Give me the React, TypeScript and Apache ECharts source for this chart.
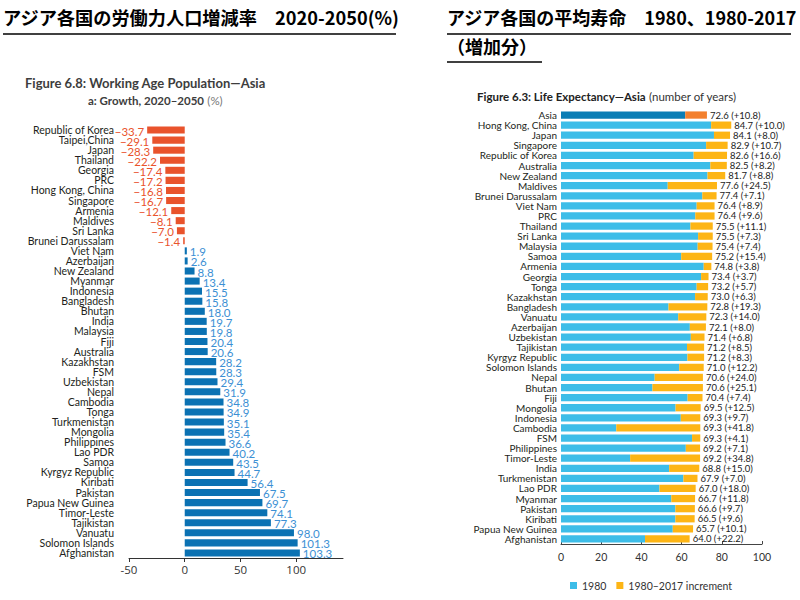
import React, { useEffect, useRef } from "react";
import * as echarts from "echarts";

const growthCategories = [
  "Republic of Korea", "Taipei,China", "Japan", "Thailand", "Georgia", "PRC",
  "Hong Kong, China", "Singapore", "Armenia", "Maldives", "Sri Lanka", "Brunei Darussalam",
  "Viet Nam", "Azerbaijan", "New Zealand", "Myanmar", "Indonesia", "Bangladesh", "Bhutan",
  "India", "Malaysia", "Fiji", "Australia", "Kazakhstan", "FSM", "Uzbekistan", "Nepal",
  "Cambodia", "Tonga", "Turkmenistan", "Mongolia", "Philippines", "Lao PDR", "Samoa",
  "Kyrgyz Republic", "Kiribati", "Pakistan", "Papua New Guinea", "Timor-Leste", "Tajikistan",
  "Vanuatu", "Solomon Islands", "Afghanistan",
];
const growthValues = [
  -33.7, -29.1, -28.3, -22.2, -17.4, -17.2, -16.8, -16.7, -12.1, -8.1, -7.0, -1.4,
  1.9, 2.6, 8.8, 13.4, 15.5, 15.8, 18.0, 19.7, 19.8, 20.4, 20.6, 28.2, 28.3, 29.4, 31.9,
  34.8, 34.9, 35.1, 35.4, 36.6, 40.2, 43.5, 44.7, 56.4, 67.5, 69.7, 74.1, 77.3,
  98.0, 101.3, 103.3,
];
const growthTicks = [-50, 0, 50, 100];

const lifeCategories = [
  "Asia", "Hong Kong, China", "Japan", "Singapore", "Republic of Korea", "Australia",
  "New Zealand", "Maldives", "Brunei Darussalam", "Viet Nam", "PRC", "Thailand", "Sri Lanka",
  "Malaysia", "Samoa", "Armenia", "Georgia", "Tonga", "Kazakhstan", "Bangladesh", "Vanuatu",
  "Azerbaijan", "Uzbekistan", "Tajikistan", "Kyrgyz Republic", "Solomon Islands", "Nepal",
  "Bhutan", "Fiji", "Mongolia", "Indonesia", "Cambodia", "FSM", "Philippines", "Timor-Leste",
  "India", "Turkmenistan", "Lao PDR", "Myanmar", "Pakistan", "Kiribati", "Papua New Guinea",
  "Afghanistan",
];
const lifeTotals = [
  72.6, 84.7, 84.1, 82.9, 82.6, 82.5, 81.7, 77.6, 77.4, 76.4, 76.4, 75.5, 75.5, 75.4, 75.2,
  74.8, 73.4, 73.2, 73.0, 72.8, 72.3, 72.1, 71.4, 71.2, 71.2, 71.0, 70.6, 70.6, 70.4, 69.5,
  69.3, 69.3, 69.3, 69.2, 69.2, 68.8, 67.9, 67.0, 66.7, 66.6, 66.5, 65.7, 64.0,
];
const lifeIncrements = [
  10.8, 10.0, 8.0, 10.7, 16.6, 8.2, 8.8, 24.5, 7.1, 8.9, 9.6, 11.1, 7.3, 7.4, 15.4,
  3.8, 3.7, 5.7, 6.3, 19.3, 14.0, 8.0, 6.8, 8.5, 8.3, 12.2, 24.0, 25.1, 7.4, 12.5,
  9.7, 41.8, 4.1, 7.1, 34.8, 15.0, 7.0, 18.0, 11.8, 9.7, 9.6, 10.1, 22.2,
];

const NEG = "#E9532C";
const POS = "#0B72B3";
const POS_LABEL = "#3C90D4";
const C1980 = "#3DBDE8";
const CINC = "#FDB515";
const ASIA1980 = "#0A7DB5";
const ASIAINC = "#F3802E";
const FONT = "Lato, 'Noto Sans', sans-serif";
const JP = "'Noto Sans CJK JP', sans-serif";

export default function App() {
  const ref = useRef<HTMLDivElement>(null);
  useEffect(() => {
    const chart = echarts.init(ref.current!, null, { renderer: "svg" });
    const base1980 = lifeTotals.map((t, i) => +(t - lifeIncrements[i]).toFixed(1));
    const option: any = {
      animation: false,
      backgroundColor: "#fff",
      textStyle: { fontFamily: FONT },
      graphic: [
        { type: "text", left: 3, top: 8, style: { text: "アジア各国の労働力人口増減率　2020-2050(%)", font: `bold 18.2px ${JP}`, fill: "#000" } },
        { type: "line", shape: { x1: 3, y1: 34, x2: 396, y2: 34 }, style: { stroke: "#000", lineWidth: 1.5 } },
        { type: "text", left: 447, top: 8, style: { text: "アジア各国の平均寿命　1980、1980-2017", font: `bold 18px ${JP}`, fill: "#000" } },
        { type: "line", shape: { x1: 447, y1: 34, x2: 791, y2: 34 }, style: { stroke: "#000", lineWidth: 1.5 } },
        { type: "text", left: 447, top: 37, style: { text: "（増加分）", font: `bold 18px ${JP}`, fill: "#000" } },
        { type: "line", shape: { x1: 447, y1: 62, x2: 542, y2: 62 }, style: { stroke: "#000", lineWidth: 1.5 } },
        {
          type: "text", left: 25, top: 76,
          style: {
            text: "{b|Figure 6.8: Working Age Population\u2014Asia}",
            rich: { b: { fontFamily: FONT, fontWeight: "bold", fontSize: 13, fill: "#3d3d3d" } },
          },
        },
        {
          type: "text", left: 88, top: 94,
          style: {
            text: "{b|a: Growth, 2020\u20132050} {r|(%)}",
            rich: {
              b: { fontFamily: FONT, fontWeight: "bold", fontSize: 11.5, fill: "#3d3d3d" },
              r: { fontFamily: FONT, fontSize: 11.5, fill: "#777" },
            },
          },
        },
        {
          type: "text", left: 477, top: 90,
          style: {
            text: "{b|Figure 6.3: Life Expectancy\u2014Asia} {r|(number of years)}",
            rich: {
              b: { fontFamily: FONT, fontWeight: "bold", fontSize: 11.5, fill: "#222" },
              r: { fontFamily: FONT, fontSize: 11.5, fill: "#333" },
            },
          },
        },
      ],
      legend: {
        data: ["1980", "1980\u20132017 increment"],
        left: 565, top: 575,
        icon: "rect", itemWidth: 7, itemHeight: 7, itemGap: 10,
        textStyle: { fontFamily: FONT, fontSize: 10.5, color: "#333" },
      },
      grid: [
        { left: 129, right: 457, top: 125, bottom: 42, containLabel: false },
        { left: 561, right: 38, top: 110, bottom: 56, containLabel: false },
      ],
      xAxis: [
        {
          type: "value", gridIndex: 0, min: -50, max: 142,
          splitLine: { show: false },
          axisLine: { show: true, onZero: false, lineStyle: { color: "#333", width: 1 } },
          axisTick: { show: true, length: 4, customValues: growthTicks, lineStyle: { color: "#333" } },
          axisLabel: { customValues: growthTicks, color: "#333", fontSize: 11.5, fontFamily: "'Open Sans', sans-serif", margin: 5 },
        },
        {
          type: "value", gridIndex: 1, min: 0, max: 100, interval: 20,
          splitLine: { show: false },
          axisLine: { show: true, onZero: false, lineStyle: { color: "#444", width: 1 } },
          axisTick: { show: true, length: 3, inside: true, lineStyle: { color: "#444" } },
          axisLabel: { color: "#333", fontSize: 10.5, fontFamily: FONT, margin: 7 },
        },
      ],
      yAxis: [
        {
          type: "category", gridIndex: 0, data: growthCategories, inverse: true,
          axisLine: { show: false, onZero: false }, axisTick: { show: false },
          axisLabel: { color: "#231F20", fontSize: 10.5, lineHeight: 10, fontFamily: FONT, margin: 15, interval: 0 },
        },
        {
          type: "category", gridIndex: 1, data: lifeCategories, inverse: true,
          axisLine: { show: false, onZero: false }, axisTick: { show: false },
          axisLabel: { color: "#231F20", fontSize: 10, lineHeight: 10, fontFamily: FONT, margin: 4, interval: 0 },
        },
      ],
      series: [
        {
          type: "bar", xAxisIndex: 0, yAxisIndex: 0, barCategoryGap: "30%",
          data: growthValues.map((v) => ({
            value: v,
            itemStyle: { color: v < 0 ? NEG : POS },
            label: { position: v < 0 ? "left" : "right", color: v < 0 ? NEG : POS_LABEL },
          })),
          label: {
            show: true, fontSize: 11.5, lineHeight: 10, fontFamily: FONT, distance: 3, offset: [0, 1],
            formatter: (p: any) => (p.value < 0 ? "\u2212" + Math.abs(p.value).toFixed(1) : p.value.toFixed(1)),
          },
        },
        {
          name: "1980", type: "bar", xAxisIndex: 1, yAxisIndex: 1, stack: "life", barCategoryGap: "28%",
          itemStyle: { color: C1980 },
          data: base1980.map((v, i) => (i === 0 ? { value: v, itemStyle: { color: ASIA1980 } } : v)),
        },
        {
          name: "1980\u20132017 increment", type: "bar", xAxisIndex: 1, yAxisIndex: 1, stack: "life", barCategoryGap: "28%",
          itemStyle: { color: CINC },
          data: lifeIncrements.map((v, i) => (i === 0 ? { value: v, itemStyle: { color: ASIAINC } } : v)),
          label: {
            show: true, position: "right", distance: 3, color: "#222", fontSize: 9.5, lineHeight: 10, fontFamily: FONT,
            formatter: (p: any) => `${lifeTotals[p.dataIndex].toFixed(1)} (+${lifeIncrements[p.dataIndex].toFixed(1)})`,
          },
        },
      ],
    };
    chart.setOption(option);
    return () => chart.dispose();
  }, []);
  return (
    <div
      ref={ref}
      style={{ position: "fixed", left: 0, top: 0, width: 800, height: 600, background: "#fff" }}
    />
  );
}
